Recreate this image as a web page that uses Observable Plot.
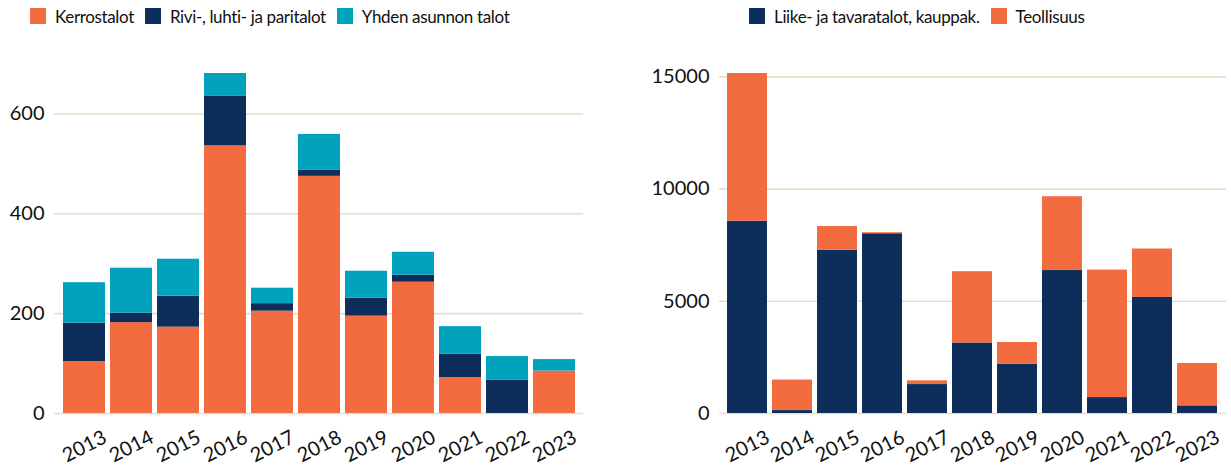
<!DOCTYPE html>
<html><head><meta charset="utf-8">
<script src="https://cdn.jsdelivr.net/npm/d3@7"></script>
<script src="https://cdn.jsdelivr.net/npm/@observablehq/plot@0.6"></script>
<style>
body{margin:0;background:#fff;font-family:Lato,sans-serif;}
#wrap{position:relative;width:1231px;height:468px;overflow:hidden;background:#fff}
.legend{position:absolute;top:0;height:32px;display:flex;align-items:center;font-size:17px;letter-spacing:-0.35px;color:#111;white-space:nowrap}
.item{display:flex;align-items:center;margin-right:11px}
.sw{width:16px;height:16px;margin-right:9px;display:inline-block}
.chart{position:absolute;top:40px}
</style></head>
<body><div id="wrap"></div>
<script>
const years = ["2013","2014","2015","2016","2017","2018","2019","2020","2021","2022","2023"];
// Left chart (asunnot)
const seriesA = ["Kerrostalot","Rivi-, luhti- ja paritalot","Yhden asunnon talot"];
const colorsA = ["#F26C40","#0D2E5A","#00A2BC"];
const kerrostalot = [104,182,173,536,205,475,195,263,72,0,85];
const rivi        = [77,19,62,100,15,12,36,14,47,67,0];
const yhden       = [81,90,74,45,31,72,54,46,55,47,23];
const ticksA = [0,200,400,600];
// Right chart
const seriesB = ["Liike- ja tavaratalot, kauppak.","Teollisuus"];
const colorsB = ["#0D2E5A","#F26C40"];
const liike       = [8570,130,7280,8010,1290,3140,2200,6370,710,5170,340];
const teollisuus  = [6580,1360,1050,45,165,3180,965,3290,5680,2160,1890];
const ticksB = [0,5000,10000,15000];

const dataA = years.flatMap((y,i)=>[
  {year:y, series:seriesA[0], value:kerrostalot[i]},
  {year:y, series:seriesA[1], value:rivi[i]},
  {year:y, series:seriesA[2], value:yhden[i]}]);
const dataB = years.flatMap((y,i)=>[
  {year:y, series:seriesB[0], value:liike[i]},
  {year:y, series:seriesB[1], value:teollisuus[i]}]);
const maxA = d3.max(years, (y,i)=>kerrostalot[i]+rivi[i]+yhden[i]);
const maxB = d3.max(years, (y,i)=>liike[i]+teollisuus[i]);

function chart(data, series, colors, ticks, max, width, ml, mr){
  return Plot.plot({
    width, height:428, marginLeft:ml, marginRight:mr, marginTop:33, marginBottom:55,
    style:{fontFamily:"Lato, sans-serif", fontSize:"20px", color:"#111", background:"transparent"},
    x:{domain:years, paddingInner:0.11, paddingOuter:0.16, label:null},
    y:{domain:[0,max], label:null},
    color:{domain:series, range:colors},
    marks:[
      Plot.gridY(ticks,{stroke:"#E6DECA", strokeOpacity:1, strokeWidth:1.6}),
      Plot.barY(data,{x:"year", y:"value", fill:"series", order:series}),
      Plot.axisY(ticks,{tickSize:0, tickPadding:10, tickFormat:d=>String(d), label:null}),
      Plot.axisX({tickSize:0, tickRotate:-27, textAnchor:"middle", tickPadding:33, label:null})
    ]
  });
}
function legend(series, colors, left){
  const d = document.createElement("div");
  d.className = "legend"; d.style.left = left+"px";
  series.forEach((s,i)=>{
    const it = document.createElement("span"); it.className="item";
    const sw = document.createElement("span"); sw.className="sw"; sw.style.background=colors[i];
    it.appendChild(sw); it.appendChild(document.createTextNode(s));
    d.appendChild(it);
  });
  return d;
}
const wrap = document.getElementById("wrap");
const a = chart(dataA, seriesA, colorsA, ticksA, maxA, 620, 54, 37);
a.classList.add("chart"); a.style.left = "0px";
const b = chart(dataB, seriesB, colorsB, ticksB, maxB, 611, 99, 5);
b.classList.add("chart"); b.style.left = "620px";
wrap.appendChild(legend(seriesA, colorsA, 30));
wrap.appendChild(legend(seriesB, colorsB, 749));
wrap.appendChild(a); wrap.appendChild(b);
</script></body></html>
